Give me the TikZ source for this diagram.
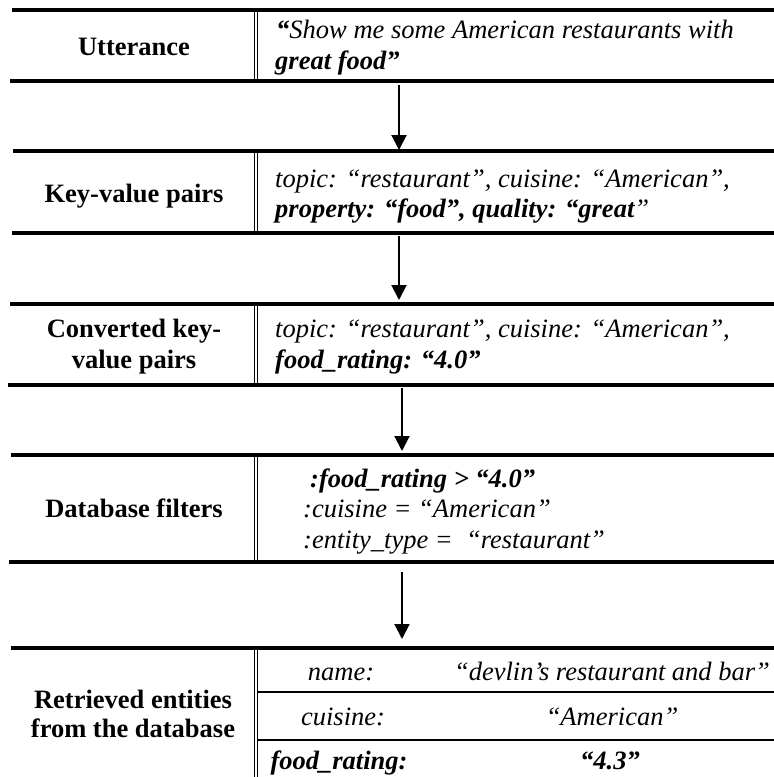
\documentclass[tikz,border=0pt]{standalone}
\usepackage{fontspec}
\setmainfont{Liberation Serif}
\usetikzlibrary{arrows.meta}
\begin{document}
\begin{tikzpicture}[x=1pt,y=-1pt,
  rule/.style={line width=3.2pt},
  thinrule/.style={line width=1.5pt},
  dbl/.style={line width=1.2pt},
  lbl/.style={anchor=base,inner sep=0pt,font=\fontsize{26.5}{31}\selectfont\bfseries},
  val/.style={anchor=base west,inner sep=0pt,font=\fontsize{26.5}{31}\selectfont\itshape},
  cell/.style={anchor=base,inner sep=0pt,font=\fontsize{26.5}{31}\selectfont\itshape},
  flow/.style={line width=2pt,-{Triangle[width=15pt,length=15pt]}}
]
\useasboundingbox (0,0) rectangle (774,777);

% row rules
\draw[rule] (12,10) -- (774,10);
\draw[rule] (10,81) -- (774,81);
\draw[rule] (13,151) -- (774,151);
\draw[rule] (12,233) -- (774,233);
\draw[rule] (10,304) -- (774,304);
\draw[rule] (8,385) -- (774,385);
\draw[rule] (11,455) -- (774,455);
\draw[rule] (9,562) -- (774,562);
\draw[rule] (11,648) -- (774,648);

% double separators between label and content columns
\foreach \a/\b in {10/81,151/233,304/385,455/562,648/777} {
  \draw[dbl] (254.7,\a) -- (254.7,\b);
  \draw[dbl] (257.3,\a) -- (257.3,\b);
}

% inner rows of the entity table
\draw[thinrule] (258,692) -- (774,692);
\draw[thinrule] (258,740) -- (774,740);

% row 1: utterance
\node[lbl] (uttL) at (134,55) {Utterance};
\node[val] (utt1) at (276,38) {{\bfseries “}Show me some American restaurants with};
\node[val] (utt2) at (275,69) {\bfseries great food”};

% row 2: key-value pairs
\node[lbl] (kvL) at (134,202) {Key-value pairs};
\node[val] (kv1) at (275,187) {topic: “restaurant”, cuisine: “American”,};
\node[val] (kv2) at (275,217) {\bfseries property: “food”, quality: “great{\mdseries ”}};

% row 3: converted key-value pairs
\node[lbl] (cvL1) at (134,337) {Converted key-};
\node[lbl] (cvL2) at (134,368) {value pairs};
\node[val] (cv1) at (275,337) {topic: “restaurant”, cuisine: “American”,};
\node[val] (cv2) at (275,368) {\bfseries food\_rating: “4.0”};

% row 4: database filters
\node[lbl] (dbL) at (134,517) {Database filters};
\node[val] (db1) at (310,487) {\bfseries :food\_rating > “4.0”};
\node[val] (db2) at (303,517) {:cuisine = “American”};
\node[val] (db3) at (303,548) {:entity\_type =\ \ “restaurant”};

% row 5: retrieved entities
\node[lbl] (reL1) at (133,708) {Retrieved entities};
\node[lbl] (reL2) at (133,737) {from the database};
\node[cell] (k1) at (341,680) {name:};
\node[cell] (v1) at (612,680) {“devlin’s restaurant and bar”};
\node[cell] (k2) at (343,725) {cuisine:};
\node[cell] (v2) at (612,725) {“American”};
\node[cell] (k3) at (339,769) {\bfseries food\_rating:};
\node[cell] (v3) at (610,769) {\bfseries “4.3”};

% flow arrows between the rows
\coordinate (a1s) at (399,85);
\coordinate (a1e) at (399,150);
\coordinate (a2s) at (399,236);
\coordinate (a2e) at (399,300);
\coordinate (a3s) at (402,388);
\coordinate (a3e) at (402,451);
\coordinate (a4s) at (402,572);
\coordinate (a4e) at (402,639);
\draw[flow] (a1s) -- (a1e);
\draw[flow] (a2s) -- (a2e);
\draw[flow] (a3s) -- (a3e);
\draw[flow] (a4s) -- (a4e);
\end{tikzpicture}
\end{document}
